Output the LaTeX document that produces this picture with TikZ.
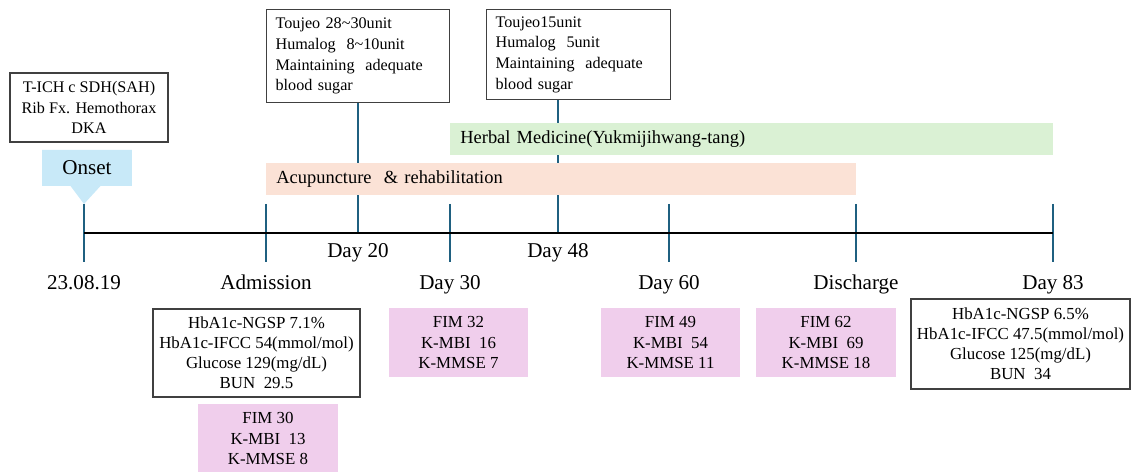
\documentclass[tikz,border=0pt]{standalone}
\usepackage{fontspec}
\setmainfont{Liberation Serif}
\usepackage{xcolor}
\usetikzlibrary{positioning,shapes.callouts}

\definecolor{tickblue}{RGB}{31,96,128}
\definecolor{onsetblue}{RGB}{200,233,248}
\definecolor{herbgreen}{RGB}{218,241,212}
\definecolor{acupeach}{RGB}{251,226,214}
\definecolor{scorepink}{RGB}{240,206,236}
\definecolor{boxgray}{RGB}{64,64,64}

\newcommand{\boxfont}{\fontsize{9.2}{11.7}\selectfont}
\newcommand{\labfont}{\fontsize{9.6}{11.4}\selectfont}
\newcommand{\dayfont}{\fontsize{12}{14}\selectfont}

\begin{document}
\begin{tikzpicture}[x=0.02cm, y=-0.02cm,
	infobox/.style={draw=boxgray, line width=0.7pt, fill=white, inner sep=0pt},
	scorebox/.style={fill=scorepink, align=center, minimum width=2.8cm, minimum height=1.37cm, inner sep=0pt, font=\labfont},
	bar/.style={anchor=west, minimum height=0.64cm, inner xsep=0.2cm, inner ysep=0pt, align=left, font=\fontsize{10.5}{12}\selectfont},
	daylabel/.style={anchor=base, font=\dayfont},
	tickline/.style={tickblue, line width=1pt}]
	\useasboundingbox (0,0) rectangle (1135,472);
	% top boxes
	\node[infobox, align=center, minimum width=3.16cm, minimum height=1.38cm, font=\boxfont] (onsetinfo) at (89,107.5) {T-ICH c SDH(SAH)\\ Rib Fx. Hemothorax\\ DKA};
	\node[infobox, anchor=north west, text width=3.3cm, inner xsep=0.18cm, minimum height=1.86cm, align=left, font=\boxfont] (toujeoA) at (266,9) {Toujeo 28\textasciitilde30unit\\ Humalog\ \ 8\textasciitilde10unit\\ Maintaining\ \ adequate\\ blood sugar};
	\node[infobox, anchor=north west, text width=3.32cm, inner xsep=0.18cm, minimum height=1.8cm, align=left, font=\boxfont] (toujeoB) at (486,9) {Toujeo15unit\\ Humalog\ \ 5unit\\ Maintaining\ \ adequate\\ blood sugar};
	\coordinate (onsettip) at (84,204);
	\node[rectangle callout, fill=onsetblue, minimum width=1.8cm, minimum height=0.72cm, inner sep=0pt, callout absolute pointer=(onsettip), callout pointer width=0.6cm, font=\dayfont] (onset) at (87,168) {Onset};
	% ticks and dates
	\foreach \x/\n/\t in {84/d0/23.08.19, 266/adm/Admission, 450/d30/Day 30, 669/d60/Day 60, 856/dis/Discharge, 1053/d83/Day 83} {
		\coordinate (\n-top) at (\x,204);
		\coordinate (\n-bot) at (\x,262);
		\draw[tickline] (\n-top) -- (\n-bot);
		\node[daylabel] (\n-lab) at (\x,290) {\t};
	}
	\coordinate (d20) at (358,233);
	\coordinate (d48) at (558,233);
	\draw[tickline] (toujeoA.south -| d20) -- (d20);
	\draw[tickline] (toujeoB.south -| d48) -- (d48);
	\node[daylabel] (d20-lab) at (358,258) {Day 20};
	\node[daylabel] (d48-lab) at (558,258) {Day 48};
	% treatment bars
	\node[bar, fill=herbgreen, text width=11.66cm] (herbal) at (450,139) {Herbal Medicine(Yukmijihwang-tang)};
	\node[bar, fill=acupeach, text width=11.4cm] (acup) at (266,179) {Acupuncture\ \ \& rehabilitation};
	% axis
	\coordinate (axisL) at (84,233);
	\coordinate (axisR) at (1053,233);
	\draw[line width=1pt] (axisL) -- (axisR);
	% lab results and scores
	\node[infobox, align=center, minimum width=4.14cm, minimum height=1.76cm, font=\labfont] (labA) at (256.5,353) {HbA1c-NGSP 7.1\%\\ HbA1c-IFCC 54(mmol/mol)\\ Glucose 129(mg/dL)\\ BUN\ \ 29.5};
	\node[infobox, align=center, minimum width=4.38cm, minimum height=1.8cm, font=\labfont] (labB) at (1020.5,344) {HbA1c-NGSP 6.5\%\\ HbA1c-IFCC 47.5(mmol/mol)\\ Glucose 125(mg/dL)\\ BUN\ \ 34};
	\node[scorebox] (scoreA) at (268,438.5) {FIM 30\\ K-MBI\ \ 13\\ K-MMSE 8};
	\node[scorebox] (scoreB) at (458.5,342.5) {FIM 32\\ K-MBI\ \ 16\\ K-MMSE 7};
	\node[scorebox] (scoreC) at (670.5,342.5) {FIM 49\\ K-MBI\ \ 54\\ K-MMSE 11};
	\node[scorebox] (scoreD) at (826,342.5) {FIM 62\\ K-MBI\ \ 69\\ K-MMSE 18};
\end{tikzpicture}
\end{document}
